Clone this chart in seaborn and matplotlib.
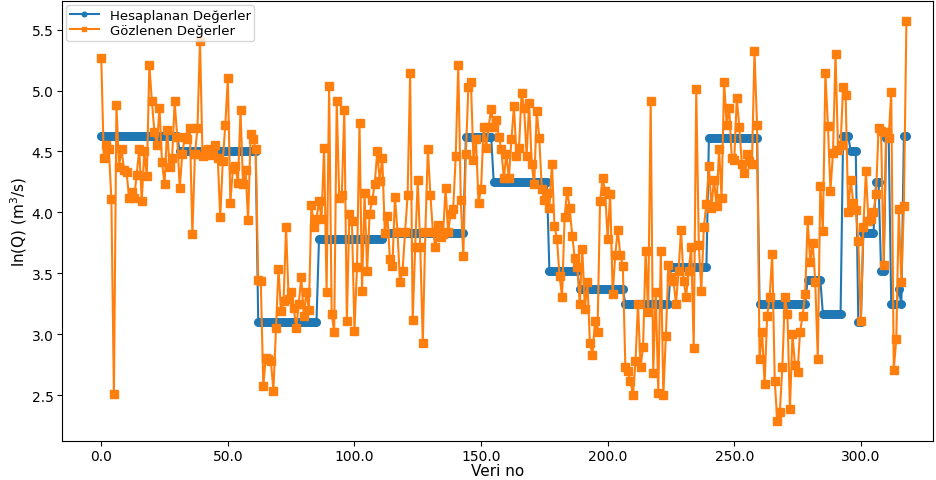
import numpy as np
import pandas as pd
import matplotlib
matplotlib.use("Agg")
import matplotlib.pyplot as plt
import seaborn as sns
from matplotlib.ticker import FormatStrFormatter

# Calculated values (step function): level and run length
hesap_levels = [4.63, 4.50, 3.10, 3.78, 3.83, 4.62, 4.25, 3.52, 3.37, 3.25,
                3.55, 4.61, 3.25, 3.45, 3.17, 4.63, 4.50, 3.10, 3.83, 4.25,
                3.52, 4.61, 3.25, 3.37, 3.25, 4.63]
hesap_counts = [31, 31, 24, 26, 32, 11, 22, 12, 18, 18,
                15, 20, 19, 6, 8, 3, 3, 2, 5, 2,
                2, 2, 3, 1, 1, 2]

# Observed values
gozlenen = [
    5.27, 4.45, 4.55, 4.52, 4.11, 2.51, 4.88, 4.37, 4.52, 4.35,
    4.33, 4.12, 4.17, 4.12, 4.31, 4.52, 4.09, 4.50, 4.30, 5.21,
    4.91, 4.66, 4.55, 4.86, 4.41, 4.23, 4.68, 4.37, 4.45, 4.91,
    4.62,
    4.20, 4.48, 4.62, 4.60, 4.69, 3.82, 4.48, 4.69, 5.41,
    4.46, 4.50, 4.52, 4.47, 4.50, 4.55, 4.45, 3.96, 4.42, 4.72,
    5.10, 4.08, 4.36, 4.38, 4.24, 4.84, 4.23, 4.35, 3.94, 4.64,
    4.60, 4.52,
    3.45, 3.44, 2.58, 2.81, 2.80, 2.78, 2.54, 3.05,
    3.54, 3.19, 3.27, 3.88, 3.29, 3.35, 3.22, 3.05, 3.25, 3.47,
    3.15, 3.35, 3.20, 4.06, 3.88, 3.95,
    4.09, 3.95, 4.53, 3.35,
    5.04, 3.17, 3.02, 4.91, 4.12, 4.14, 4.84, 3.11, 3.99, 3.93,
    3.03, 3.55, 4.73, 3.36, 4.16, 3.52, 3.99, 4.10, 4.23, 4.50,
    4.26, 4.45,
    3.83, 3.97, 3.62, 3.56, 4.13, 3.84, 3.43, 3.52,
    3.84, 4.14, 5.14, 3.12, 3.72, 4.27, 3.72, 2.93, 3.84, 4.52,
    4.14, 3.84, 3.72, 3.90, 3.80, 3.82, 4.20, 3.84, 3.99, 4.03,
    4.46, 5.21, 4.10, 3.64,
    4.48, 5.03, 5.07, 4.43, 4.60, 4.08,
    4.19, 4.70, 4.53, 4.70, 4.85,
    4.70, 4.76, 4.62, 4.52, 4.28,
    4.48, 4.28, 4.60, 4.87, 4.46, 4.53, 4.98, 4.86, 4.46, 4.90,
    4.40, 4.23, 4.83, 4.61, 4.19, 4.10, 4.16,
    4.04, 4.40, 3.89,
    3.78, 3.48, 3.31, 3.96, 4.18, 4.04, 3.81, 3.63, 3.55,
    3.25,
    3.70, 3.21, 3.43, 2.93, 2.83, 3.11, 3.02, 4.09, 4.28, 4.18,
    3.78, 4.15, 3.33, 3.65, 3.86, 3.65, 3.56,
    2.73, 2.70, 2.62,
    2.50, 2.78, 3.25, 2.73, 2.90, 3.68, 3.18, 4.91, 2.68, 3.35,
    2.52, 3.68, 2.50, 2.99, 3.57,
    3.47, 3.44, 3.25, 3.52, 3.86,
    3.44, 3.31, 3.52, 3.72, 2.89, 5.01, 3.73, 3.36, 3.88, 4.07,
    4.38, 4.04, 4.27, 4.05, 4.52, 4.12, 5.07, 4.72, 4.86, 4.45,
    4.43, 4.94, 4.70, 4.40, 4.32, 4.48, 4.42, 4.40, 5.32, 4.72,
    2.80, 3.02, 2.59, 3.15, 3.31, 3.66, 2.62, 2.29, 2.36, 2.73,
    3.31, 3.17, 2.39, 3.00, 2.75, 2.69, 3.02, 3.15, 3.33,
    3.94,
    3.59, 3.75, 3.43, 2.80, 4.22, 3.85, 5.14, 4.71, 4.18, 4.49,
    5.30, 4.51, 4.55, 5.03, 4.96, 4.00, 4.27, 4.08, 4.02, 3.77,
    3.11, 3.88, 4.34, 3.93, 3.95, 4.00, 4.15, 4.69, 4.67, 3.57,
    4.66, 4.61, 4.99, 2.71, 2.96, 4.03, 3.43, 4.05, 5.57,
]

x_ticks = [0, 50, 100, 150, 200, 250, 300]
y_ticks = [2.5, 3.0, 3.5, 4.0, 4.5, 5.0, 5.5]

hesaplanan = np.repeat(hesap_levels, hesap_counts)
veri_no = np.arange(len(gozlenen))
df = pd.DataFrame({"Veri no": veri_no,
                   "Hesaplanan": hesaplanan[:len(gozlenen)],
                   "Gozlenen": gozlenen})

W, H = 937, 481
fig = plt.figure(figsize=(W / 100, H / 100), dpi=100)
ax = fig.add_axes([62 / W, 39 / H, (933 - 62) / W, (442 - 2) / H])

sns.lineplot(data=df, x="Veri no", y="Hesaplanan", ax=ax, color="#1f77b4",
             marker="o", markersize=5.5, markeredgecolor="#1f77b4",
             markeredgewidth=1, linewidth=1.5, label="Hesaplanan Değerler")
sns.lineplot(data=df, x="Veri no", y="Gozlenen", ax=ax, color="#ff7f0e",
             marker="s", markersize=5.5, markeredgecolor="#ff7f0e",
             markeredgewidth=1, linewidth=1.5, label="Gözlenen Değerler")

ax.set_xlim(-15.5, 328.5)
ax.set_ylim(2.126, 5.734)
ax.set_xticks(x_ticks)
ax.set_yticks(y_ticks)
ax.xaxis.set_major_formatter(FormatStrFormatter("%.1f"))
ax.yaxis.set_major_formatter(FormatStrFormatter("%.1f"))
ax.tick_params(labelsize=10, pad=2.5)
ax.set_xlabel("Veri no", fontsize=11, labelpad=0)
ax.set_ylabel("ln(Q) (m$^3$/s)", fontsize=11, labelpad=2)

ax.legend(loc="upper left", fontsize=9.5, labelspacing=0.15, borderpad=0.3,
          handlelength=2.2, markerscale=0.6, borderaxespad=0.3)

fig.savefig("out.png", dpi=100)
